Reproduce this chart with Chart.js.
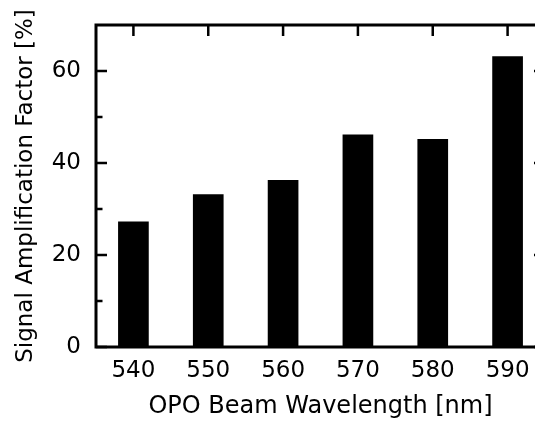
<!DOCTYPE html>
<html>
<head>
<meta charset="utf-8">
<style>
  html, body { margin: 0; padding: 0; background: #fff; overflow: hidden; width: 535px; height: 421px; }
  #wrap { width: 560px; height: 421px; }
</style>
</head>
<body>
<div id="wrap"><canvas id="ampChart" width="560" height="421"></canvas></div>
<script src="https://cdn.jsdelivr.net/npm/chart.js"></script>
<script>
  // data
  const wavelengths = ['540', '550', '560', '570', '580', '590'];
  const amplification = [27.3, 33.2, 36.3, 46.2, 45.2, 63.2];
  const yMajorTicks = [0, 20, 40, 60];
  const yMinorTicks = [10, 30, 50];

  const FONT = '"DejaVu Sans", Arial, sans-serif';

  // frame + inward ticks, like the original plotting software
  const framePlugin = {
    id: 'frame',
    afterDraw(chart) {
      const { ctx, chartArea: a, scales } = chart;
      const x = scales.x, y = scales.y;
      ctx.save();
      ctx.strokeStyle = '#000';
      ctx.lineCap = 'butt';
      ctx.lineWidth = 2.5;
      ctx.beginPath();
      yMajorTicks.forEach(v => {
        const py = y.getPixelForValue(v);
        ctx.moveTo(a.left, py); ctx.lineTo(a.left + 11, py);
        ctx.moveTo(a.right, py); ctx.lineTo(a.right - 11, py);
      });
      yMinorTicks.forEach(v => {
        const py = y.getPixelForValue(v);
        ctx.moveTo(a.left, py); ctx.lineTo(a.left + 6.5, py);
        ctx.moveTo(a.right, py); ctx.lineTo(a.right - 6.5, py);
      });
      wavelengths.forEach((w, i) => {
        const px = x.getPixelForValue(i);
        ctx.moveTo(px, a.top); ctx.lineTo(px, a.top + 11);
        ctx.moveTo(px, a.bottom); ctx.lineTo(px, a.bottom - 11);
      });
      ctx.stroke();
      ctx.lineWidth = 3;
      ctx.strokeRect(a.left, a.top, a.right - a.left, a.bottom - a.top);
      ctx.restore();
    }
  };

  const ctx = document.getElementById('ampChart').getContext('2d');
  new Chart(ctx, {
    type: 'bar',
    data: {
      labels: wavelengths,
      datasets: [{
        label: 'Signal Amplification Factor',
        data: amplification,
        backgroundColor: '#000',
        borderWidth: 0,
        barPercentage: 0.41,
        categoryPercentage: 1
      }]
    },
    options: {
      responsive: false,
      animation: false,
      layout: { padding: { left: 0, top: 25, right: 15, bottom: 0 } },
      plugins: { legend: { display: false }, tooltip: { enabled: false } },
      scales: {
        x: {
          offset: true,
          grid: { display: false },
          border: { display: false },
          ticks: { color: '#000', font: { family: FONT, size: 23 }, padding: 2 },
          title: {
            display: true,
            text: 'OPO Beam Wavelength [nm]',
            color: '#000',
            font: { family: FONT, size: 24 },
            padding: { top: 4, bottom: 0 }
          },
          afterFit(s) { s.height = 74; }
        },
        y: {
          min: 0,
          max: 70,
          grid: { display: false },
          border: { display: false },
          ticks: {
            stepSize: 20,
            color: '#000',
            font: { family: FONT, size: 23 },
            padding: 7,
            callback: v => (yMajorTicks.includes(v) ? v : '')
          },
          title: {
            display: true,
            text: 'Signal Amplification Factor [%]',
            color: '#000',
            font: { family: FONT, size: 23 },
            padding: { top: 12, bottom: 0 }
          },
          afterFit(s) { s.width = 96; }
        }
      }
    },
    plugins: [framePlugin]
  });
</script>
</body>
</html>
